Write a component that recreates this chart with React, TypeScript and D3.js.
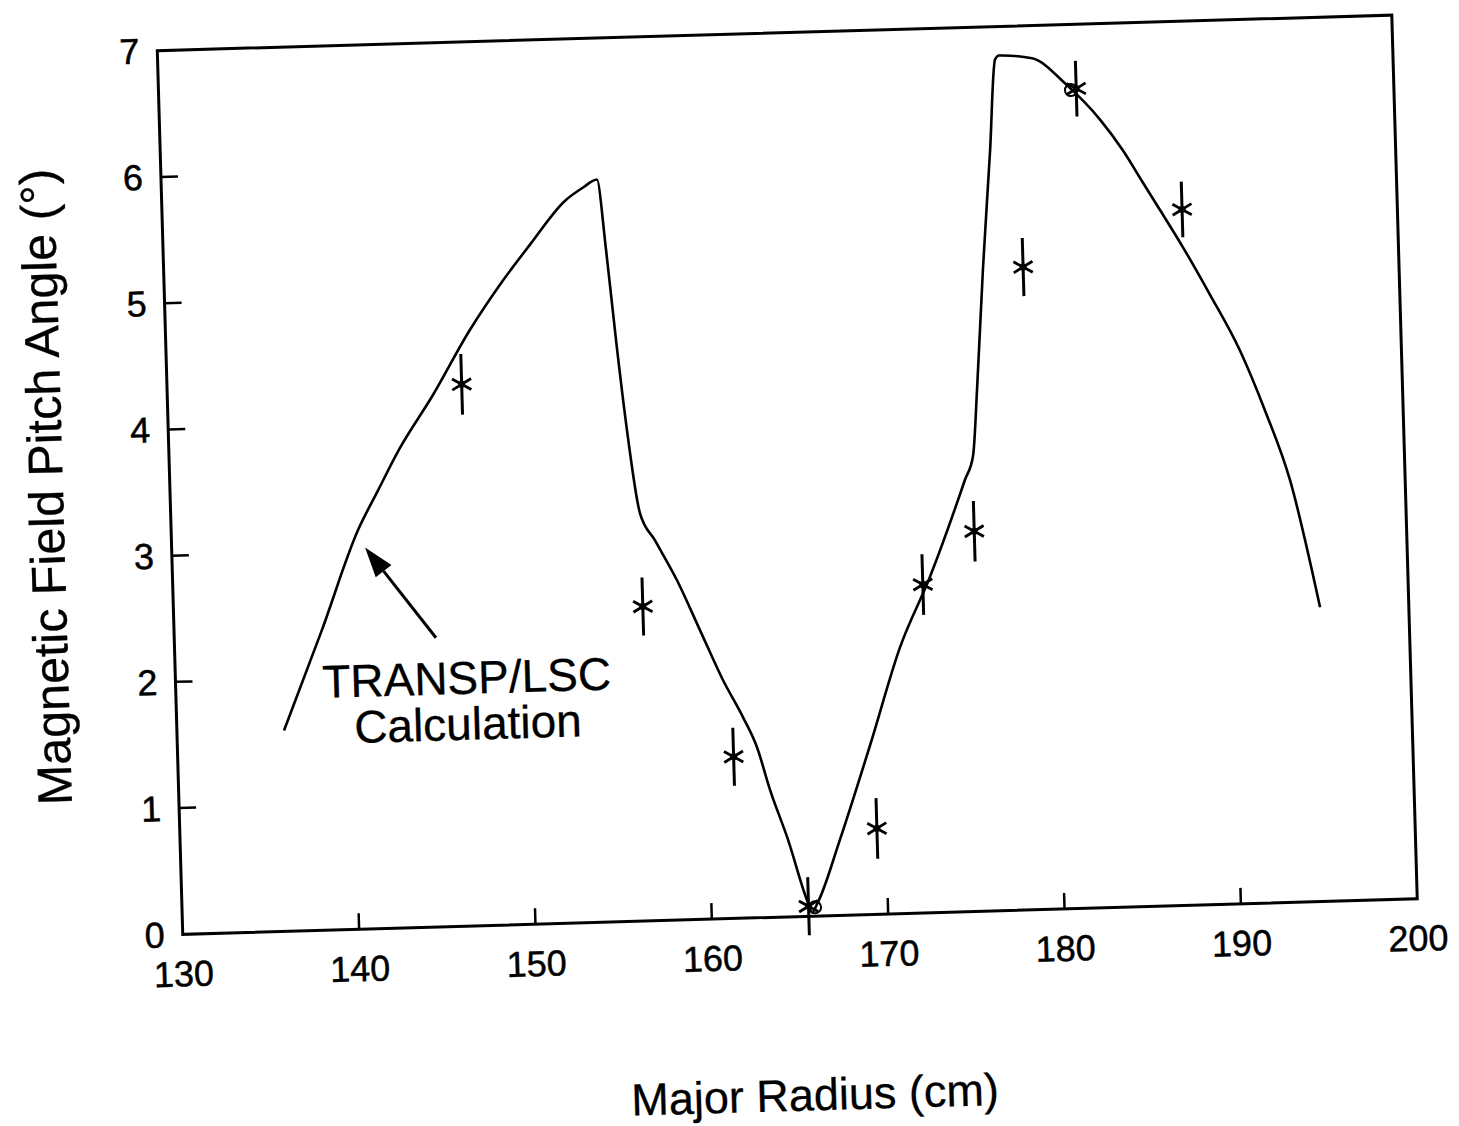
import React from "react";
import * as d3 from "d3";

// TRANSP/LSC calculated pitch-angle profile
const calcRadius = [
  136.07, 138.39, 140.59, 141.79, 143.1, 145.0, 147.26, 149.03, 150.8, 152.86,
  153.9, 154.7, 155.1, 155.52, 155.99, 156.59, 157.4, 158.58, 159.8, 161.02,
  162.1, 162.84, 163.51, 164.45, 165.42, 165.69, 166.04, 167.39, 169.25, 171.11,
  172.92, 175.06, 175.56, 175.89, 176.42, 177.02, 177.45, 177.68, 179.55, 181.48,
  183.3, 184.55, 185.63, 186.55, 187.79, 189.24, 190.85, 192.17, 193.48, 194.97,
];
const calcPitch = [
  1.59, 2.38, 3.16, 3.47, 3.8, 4.2, 4.72, 5.07, 5.38, 5.72,
  5.82, 5.88, 5.32, 4.6, 3.89, 3.23, 3.01, 2.69, 2.29, 1.89,
  1.59, 1.35, 1.01, 0.61, 0.13, 0.03, 0.11, 0.6, 1.34, 2.11,
  2.66, 3.42, 3.61, 4.13, 5.08, 6.02, 6.74, 6.77, 6.74, 6.52,
  6.24, 5.99, 5.73, 5.51, 5.21, 4.83, 4.38, 3.9, 3.34, 2.33,
];

// Measured pitch angles with error bars
const measRadius = [146.7, 156.6, 161.5, 165.5, 169.5, 172.5, 175.5, 178.7, 182.0, 187.8];
const measPitch = [4.29, 2.49, 1.28, 0.08, 0.68, 2.6, 3.01, 5.09, 6.49, 5.51];
const measErr = [0.24, 0.23, 0.23, 0.23, 0.24, 0.24, 0.24, 0.23, 0.22, 0.22];

// Calculated values marked at two measurement radii
const markRadius = [165.87, 181.7];
const markPitch = [0.07, 6.48];

const xTicks = [130, 140, 150, 160, 170, 180, 190, 200];
const yTicks = [0, 1, 2, 3, 4, 5, 6, 7];

const noteLines = ["TRANSP/LSC", "Calculation"];
const noteAt = { r: 146.5, p: 1.84 };
const arrowFrom = { r: 144.83, p: 2.29 };
const arrowTo = { r: 140.96, p: 3.02 };

const FONT = "'Liberation Sans', Arial, Helvetica, sans-serif";

export default function App() {
  const W = 1235;
  const H = 884;
  const x = d3.scaleLinear().domain([130, 200]).range([0, W]);
  const y = d3.scaleLinear().domain([0, 7]).range([H, 0]);

  const curve = d3
    .line<number>()
    .x((_, i) => x(calcRadius[i]))
    .y((d) => y(d))
    .curve(d3.curveMonotoneX)(calcPitch) as string;

  // arrow head geometry
  const ax1 = x(arrowFrom.r), ay1 = y(arrowFrom.p);
  const ax2 = x(arrowTo.r), ay2 = y(arrowTo.p);
  const ang = Math.atan2(ay2 - ay1, ax2 - ax1);
  const headLen = 30, headHalf = 10;
  const bx = ax2 - headLen * Math.cos(ang);
  const by = ay2 - headLen * Math.sin(ang);
  const head = [
    [ax2, ay2],
    [bx + headHalf * Math.sin(ang), by - headHalf * Math.cos(ang)],
    [bx - headHalf * Math.sin(ang), by + headHalf * Math.cos(ang)],
  ]
    .map((p) => p.join(","))
    .join(" ");

  const starR = 11;
  const starAngles = [Math.PI / 6, -Math.PI / 6];
  const textStroke = { stroke: "#000", strokeWidth: 0.5 };

  return (
    <svg
      width={1459}
      height={1126}
      style={{ position: "absolute", left: 0, top: 0, background: "#fff" }}
      fontFamily={FONT}
    >
      <rect x={0} y={0} width={1459} height={1126} fill="#fff" />
      <g transform="translate(157.3,50.7) rotate(-1.65)">
        {/* frame */}
        <rect x={0} y={0} width={W} height={H} fill="none" stroke="#000" strokeWidth={3} />

        {/* x ticks and labels */}
        {xTicks.map((t) => (
          <g key={"xt" + t}>
            {t > 130 && t < 200 && (
              <line x1={x(t)} x2={x(t)} y1={H} y2={H - 16} stroke="#000" strokeWidth={2.5} />
            )}
            <text x={x(t)} y={H + 52} fontSize={36} textAnchor="middle" fill="#000" {...textStroke}>
              {t}
            </text>
          </g>
        ))}

        {/* y ticks and labels */}
        {yTicks.map((t) => (
          <g key={"yt" + t}>
            {t > 0 && t < 7 && (
              <line x1={0} x2={17} y1={y(t)} y2={y(t)} stroke="#000" strokeWidth={2.5} />
            )}
            <text x={-18} y={y(t) + 12.5} fontSize={36} textAnchor="end" fill="#000" {...textStroke}>
              {t}
            </text>
          </g>
        ))}

        {/* calculated profile */}
        <path d={curve} fill="none" stroke="#000" strokeWidth={2.6} strokeLinejoin="round" />

        {/* calculated values at measurement radii */}
        {markRadius.map((r, i) => (
          <circle
            key={"m" + i}
            cx={x(r)}
            cy={y(markPitch[i])}
            r={6}
            fill="none"
            stroke="#000"
            strokeWidth={2}
          />
        ))}

        {/* measurements */}
        {measRadius.map((r, i) => {
          const cx = x(r);
          const cy = y(measPitch[i]);
          return (
            <g key={"p" + i} stroke="#000" strokeWidth={3}>
              <line
                x1={cx}
                x2={cx}
                y1={y(measPitch[i] + measErr[i])}
                y2={y(measPitch[i] - measErr[i])}
              />
              {starAngles.map((a, k) => (
                <line
                  key={k}
                  x1={cx - starR * Math.cos(a)}
                  y1={cy - starR * Math.sin(a)}
                  x2={cx + starR * Math.cos(a)}
                  y2={cy + starR * Math.sin(a)}
                  strokeWidth={2.8}
                />
              ))}
              <circle cx={cx} cy={cy} r={3.5} fill="#000" stroke="none" />
            </g>
          );
        })}

        {/* annotation */}
        <line x1={ax1} y1={ay1} x2={bx} y2={by} stroke="#000" strokeWidth={3} />
        <polygon points={head} fill="#000" />
        {noteLines.map((s, i) => (
          <text
            key={s}
            x={x(noteAt.r)}
            y={y(noteAt.p) + i * 46}
            fontSize={46}
            textAnchor="middle"
            fill="#000"
            stroke="#000"
            strokeWidth={0.3}
          >
            {s}
          </text>
        ))}

        {/* axis titles */}
        <text
          x={W / 2 + 10}
          y={H + 194}
          fontSize={45}
          textAnchor="middle"
          fill="#000"
          stroke="#000"
          strokeWidth={0.3}
        >
          Major Radius (cm)
        </text>
        <text
          transform={`translate(-107,${H / 2 - 9}) rotate(-90)`}
          fontSize={48.5}
          textAnchor="middle"
          fill="#000"
          stroke="#000"
          strokeWidth={0.3}
        >
          Magnetic Field Pitch Angle (°)
        </text>
      </g>
    </svg>
  );
}
